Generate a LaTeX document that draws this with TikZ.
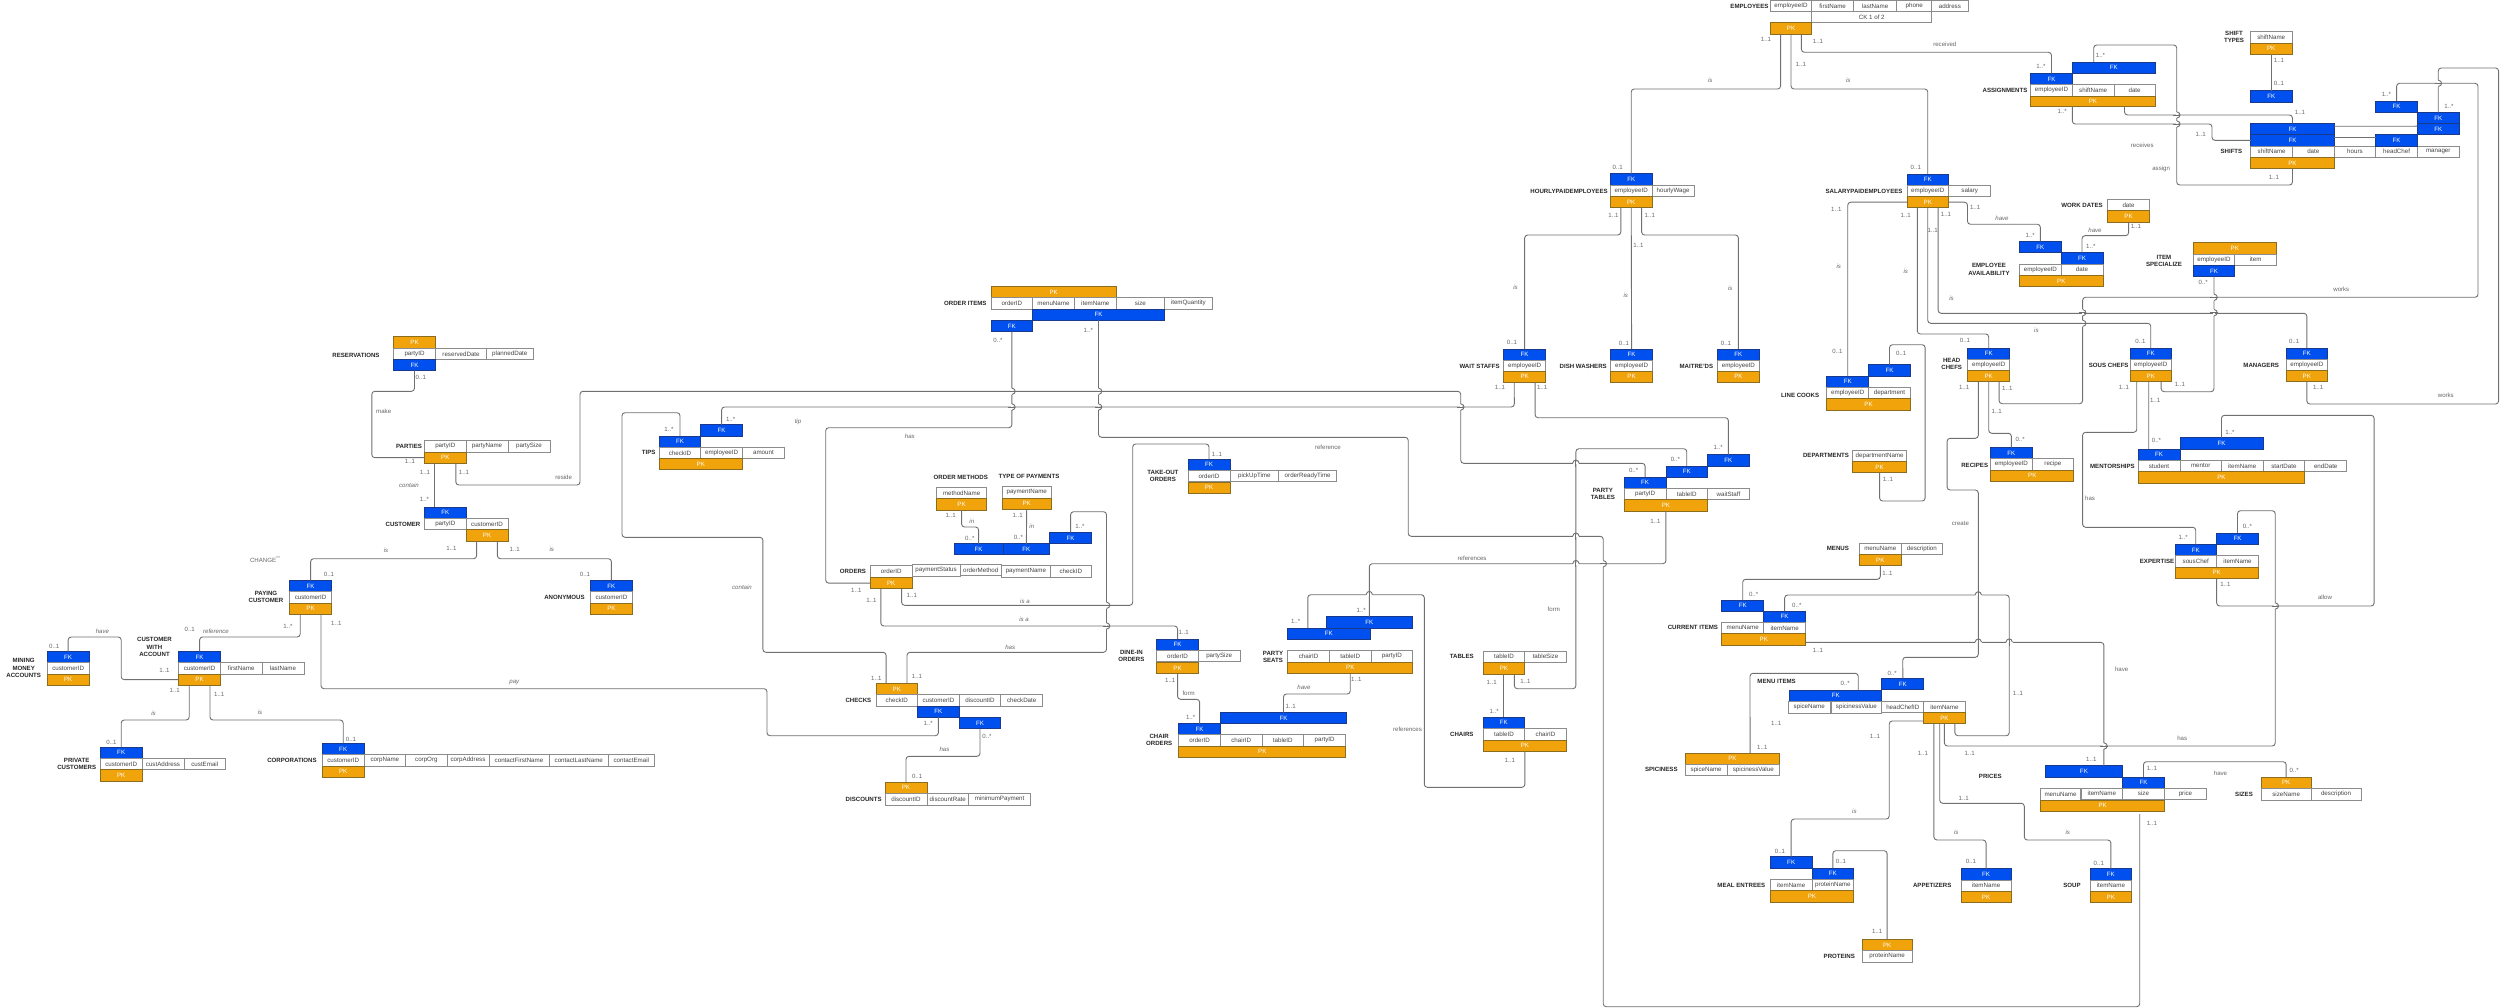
\documentclass[tikz,border=0pt]{standalone}
\usepackage{fontspec}
\setmainfont{Liberation Sans}
\definecolor{pkc}{HTML}{F0A30A}
\definecolor{pkb}{HTML}{8A6D1E}
\definecolor{fkc}{HTML}{0050EF}
\definecolor{fkb}{HTML}{1B3A8C}
\definecolor{cellb}{HTML}{8C8C8C}
\definecolor{txt}{HTML}{444444}
\definecolor{lnc}{HTML}{707070}
\tikzset{
 basebox/.style={inner sep=0pt,outer sep=0pt,line width=.8pt,font=\fontsize{6.2}{7.3}\selectfont},
 cellbox/.style={basebox,draw=cellb,fill=white,text=txt},
 pkbox/.style={basebox,draw=pkb,fill=pkc,text=white},
 fkbox/.style={basebox,draw=fkb,fill=fkc,text=white},
 titlebox/.style={align=center,inner sep=0pt,text=black!85,font=\fontsize{6.1}{7.3}\selectfont\bfseries},
 lab/.style={inner sep=0pt,text=black!60,font=\fontsize{6.1}{7.3}\selectfont},
 labi/.style={lab,font=\fontsize{6.1}{7.3}\selectfont\itshape},
 conn/.style={draw=lnc,line width=.9pt,rounded corners=3pt}
}
\newcount\nodeno
\newcommand{\bx}[7]{\node[#1,minimum width={(#5-#3)*1pt},minimum height={(#6-#4)*1pt}] (#2) at ({(#3+#5)/2},{(#4+#6)/2}) {#7};}
\newcommand{\ce}[6]{\bx{cellbox}{#1}{#2}{#3}{#4}{#5}{#6}}
\newcommand{\pk}[5]{\bx{pkbox}{#1}{#2}{#3}{#4}{#5}{PK}}
\newcommand{\fk}[5]{\bx{fkbox}{#1}{#2}{#3}{#4}{#5}{FK}}
\newcommand{\ttl}[3]{\global\advance\nodeno by 1 \node[titlebox] (t\the\nodeno) at (#1,#2) {#3};}
\newcommand{\lb}[3]{\global\advance\nodeno by 1 \node[lab] (t\the\nodeno) at (#1,#2) {#3};}
\newcommand{\li}[3]{\global\advance\nodeno by 1 \node[labi] (t\the\nodeno) at (#1,#2) {#3};}
\newcommand{\jh}[2]{\fill[white] ({#1-3.4},{#2-.9}) rectangle ({#1+3.4},{#2+.9});
 \draw[conn] (#1,{#2-3.6}) -- (#1,{#2+3.6});
 \draw[conn] ({#1-3.2},#2) .. controls ({#1-2.6},{#2-4.4}) and ({#1+2.6},{#2-4.4}) .. ({#1+3.2},#2);}
\newcommand{\jv}[2]{\fill[white] ({#1-.9},{#2-3.4}) rectangle ({#1+.9},{#2+3.4});
 \draw[conn] ({#1-3.6},#2) -- ({#1+3.6},#2);
 \draw[conn] (#1,{#2-3.2}) .. controls ({#1+4.4},{#2-2.6}) and ({#1+4.4},{#2+2.6}) .. (#1,{#2+3.2});}
\begin{document}
\begin{tikzpicture}[x=1pt,y=-1pt]
\path[use as bounding box,fill=white] (0,0) rectangle (2500,1008);
% ---------- customers and parties
\pk{resPK}{393.5}{336.7}{435.5}{348.3}
\ce{resA}{393.5}{348.3}{435.5}{359.5}{partyID}
\ce{resB}{435.5}{348.3}{486.6}{359.5}{reservedDate}
\ce{resC}{486.6}{348.3}{533}{359.5}{plannedDate}
\fk{resFK}{393.5}{359.5}{435.5}{370.7}
\ttl{356}{355}{RESERVATIONS}
\ce{parA}{424.5}{440.7}{466}{452}{partyID}
\ce{parB}{466}{440.7}{508}{452}{partyName}
\ce{parC}{508}{440.7}{550}{452}{partySize}
\pk{parPK}{424.5}{452}{466}{463.3}
\ttl{409}{446.3}{PARTIES}
\fk{cusFK}{424.5}{507}{466}{518.3}
\ce{cusA}{424.5}{518.3}{466}{529.5}{partyID}
\ce{cusB}{466}{518.3}{508}{529.5}{customerID}
\pk{cusPK}{466}{529.5}{508}{541}
\ttl{403}{524}{CUSTOMER}
\fk{payFK}{289.8}{580.3}{331.4}{591.7}
\ce{payA}{289.8}{591.7}{331.4}{603}{customerID}
\pk{payPK}{289.8}{603}{331.4}{614.3}
\ttl{266}{597}{PAYING\\CUSTOMER}
\fk{anoFK}{590.6}{580.3}{632.2}{591.7}
\ce{anoA}{590.6}{591.7}{632.2}{603}{customerID}
\pk{anoPK}{590.6}{603}{632.2}{614.3}
\ttl{564.5}{597.7}{ANONYMOUS}
\fk{cwaFK}{178.8}{651.3}{220.4}{662.7}
\ce{cwaA}{178.8}{662.7}{220.4}{674}{customerID}
\ce{cwaB}{220.4}{662.7}{262}{674}{firstName}
\ce{cwaC}{262}{662.7}{304}{674}{lastName}
\pk{cwaPK}{178.8}{674}{220.4}{685.3}
\ttl{154.5}{647}{CUSTOMER\\WITH\\ACCOUNT}
\fk{minFK}{47.3}{651.3}{89}{662.7}
\ce{minA}{47.3}{662.7}{89}{674}{customerID}
\pk{minPK}{47.3}{674}{89}{685.3}
\ttl{23.7}{668}{MINING\\MONEY\\ACCOUNTS}
\fk{priFK}{100.4}{747}{142}{758.3}
\ce{priA}{100.4}{758.3}{142}{769.7}{customerID}
\ce{priB}{142}{758.3}{184}{769.7}{custAddress}
\ce{priC}{184}{758.3}{225.6}{769.7}{custEmail}
\pk{priPK}{100.4}{769.7}{142}{781}
\ttl{76.7}{764}{PRIVATE\\CUSTOMERS}
\fk{corFK}{322.4}{743.3}{364}{754.7}
\ce{corA}{322.4}{754.7}{364}{766}{customerID}
\ce{corB}{364}{754.7}{405.7}{766}{corpName}
\ce{corC}{405.7}{754.7}{447}{766}{corpOrg}
\ce{corD}{447}{754.7}{489}{766}{corpAddress}
\ce{corE}{489}{754.7}{549}{766}{contactFirstName}
\ce{corF}{549}{754.7}{608.6}{766}{contactLastName}
\ce{corG}{608.6}{754.7}{654}{766}{contactEmail}
\pk{corPK}{322.4}{766}{364}{777.3}
\ttl{292}{760.3}{CORPORATIONS}
% ---------- orders
\pk{oiPK}{991}{286.3}{1116.3}{297.7}
\ce{oiA}{991}{297.7}{1032.7}{309}{orderID}
\ce{oiB}{1032.7}{297.7}{1074.3}{309}{menuName}
\ce{oiC}{1074.3}{297.7}{1116.3}{309}{itemName}
\ce{oiD}{1116.3}{297.7}{1164.3}{309}{size}
\ce{oiE}{1164.3}{297.7}{1212.3}{309}{itemQuantity}
\fk{oiFK2}{1032.7}{309}{1164.3}{320.3}
\fk{oiFK1}{991}{320.3}{1032.7}{331.7}
\ttl{965.3}{303.3}{ORDER ITEMS}
\fk{tipFKb}{700.8}{424.7}{742.4}{436}
\fk{tipFKa}{659.2}{436}{700.8}{447.3}
\ce{tipA}{659.2}{447.3}{700.8}{458.3}{checkID}
\ce{tipB}{700.8}{447.3}{742.4}{458.3}{employeeID}
\ce{tipC}{742.4}{447.3}{784.5}{458.3}{amount}
\pk{tipPK}{659.2}{458.3}{742.4}{469.7}
\ttl{648.6}{452.7}{TIPS}
\ce{ordA}{870.2}{565.7}{912.2}{577}{orderID}
\ce{ordB}{912.2}{564.7}{960}{576}{paymentStatus}
\ce{ordC}{960}{564.3}{1001.6}{575.7}{orderMethod}
\ce{ordD}{1001.6}{565.7}{1050.2}{577}{paymentName}
\ce{ordE}{1050.2}{565.7}{1091.4}{577}{checkID}
\pk{ordPK}{870.2}{577.5}{912.2}{588.7}
\ttl{853}{571.7}{ORDERS}
\fk{ofkA}{954.3}{543.7}{1002.9}{554.7}
\fk{ofkB}{1002.9}{543.7}{1049.8}{554.7}
\fk{ofkC}{1049.8}{532.3}{1091.4}{543.7}
\ce{omA}{936.7}{487.3}{986.5}{498.7}{methodName}
\pk{omPK}{936.7}{498.7}{986.5}{510}
\ttl{960.8}{477.3}{ORDER METHODS}
\ce{tpA}{1002}{486.7}{1051.4}{498}{paymentName}
\pk{tpPK}{1002}{498}{1051.4}{509.3}
\ttl{1029}{476.7}{TYPE OF PAYMENTS}
\fk{toFK}{1188}{459}{1230}{470.3}
\ce{toA}{1188}{470.3}{1230}{481.7}{orderID}
\ce{toB}{1230}{470.3}{1278.6}{481.7}{pickUpTime}
\ce{toC}{1278.6}{470.3}{1336.8}{481.7}{orderReadyTime}
\pk{toPK}{1188}{481.9}{1230}{493.7}
\ttl{1162.9}{476}{TAKE-OUT\\ORDERS}
\pk{chkPK}{875.9}{683.3}{917.6}{694.7}
\ce{chkA}{875.9}{694.7}{917.6}{706}{checkID}
\ce{chkB}{917.6}{694.7}{959.2}{706}{customerID}
\ce{chkC}{959.2}{694.7}{1000.8}{706}{discountID}
\ce{chkD}{1000.8}{694.7}{1042.6}{706}{checkDate}
\fk{chkFKa}{917.6}{706}{959.2}{717.3}
\fk{chkFKb}{959.2}{717.3}{1000.8}{728.7}
\ttl{858.4}{700.3}{CHECKS}
\pk{disPK}{884.9}{782}{927}{793.3}
\ce{disA}{884.9}{793.3}{927}{805}{discountID}
\ce{disB}{927}{793.3}{968.6}{805}{discountRate}
\ce{disC}{968.6}{793.3}{1030.6}{805}{minimumPayment}
\ttl{863.7}{799.7}{DISCOUNTS}
\fk{diFK}{1156.7}{639}{1198.4}{650.3}
\ce{diA}{1156.7}{650.3}{1198.4}{661.7}{orderID}
\ce{diB}{1198.4}{650.3}{1240}{661.7}{partySize}
\pk{diPK}{1156.7}{662.1}{1198.4}{673.7}
\ttl{1131.4}{656}{DINE-IN\\ORDERS}
\fk{coFKb}{1220.4}{712.3}{1346.5}{723.5}
\fk{coFKa}{1178.8}{723.5}{1220.4}{734.7}
\ce{coA}{1178.8}{734.7}{1220.4}{746}{orderID}
\ce{coB}{1220.4}{734.7}{1262}{746}{chairID}
\ce{coC}{1262}{734.7}{1303.5}{746}{tableID}
\ce{coD}{1303.5}{734.7}{1345.7}{746}{partyID}
\pk{coPK}{1178.8}{746}{1345.7}{757.3}
\ttl{1159.2}{740}{CHAIR\\ORDERS}
\fk{psFKb}{1325.9}{616.5}{1412.7}{628}
\fk{psFKa}{1287}{628}{1370.6}{639.3}
\ce{psA}{1287.8}{650.5}{1329.4}{661.9}{chairID}
\ce{psB}{1329.4}{650.5}{1371}{661.9}{tableID}
\ce{psC}{1371}{650.5}{1412.7}{661.9}{partyID}
\pk{psPK}{1287.8}{661.9}{1412.7}{673.5}
\ttl{1273}{657}{PARTY\\SEATS}
\ce{tabA}{1483.3}{651}{1524.5}{662.3}{tableID}
\ce{tabB}{1524.5}{651}{1566.5}{662.3}{tableSize}
\pk{tabPK}{1483.3}{662.3}{1524.5}{674}
\ttl{1461.8}{656.7}{TABLES}
\fk{chaFK}{1483.3}{717}{1524.5}{728.3}
\ce{chaA}{1483.3}{728.3}{1524.5}{740}{tableID}
\ce{chaB}{1524.5}{728.3}{1566.5}{740}{chairID}
\pk{chaPK}{1483.3}{740}{1566.5}{751.3}
\ttl{1461.8}{734.3}{CHAIRS}
% ---------- staff
\ce{empA}{1770.2}{0.4}{1811.8}{11.3}{employeeID}
\ce{empB}{1811.8}{0.4}{1853.5}{11.3}{firstName}
\ce{empC}{1853.5}{0.4}{1896.8}{11.3}{lastName}
\ce{empD}{1896.8}{0.4}{1931.7}{11.3}{phone}
\ce{empE}{1931.7}{0.4}{1968}{11.3}{address}
\ce{empCK}{1811.8}{11.3}{1931.7}{22.7}{CK 1 of 2}
\pk{empPK}{1770.2}{22.7}{1811.8}{34}
\ttl{1749.4}{6}{EMPLOYEES}
\fk{hpFK}{1610.2}{173.7}{1652.2}{185}
\ce{hpA}{1610.2}{185}{1652.2}{196.3}{employeeID}
\ce{hpB}{1652.2}{185}{1694}{196.3}{hourlyWage}
\pk{hpPK}{1610.2}{196.3}{1652.2}{207.7}
\ttl{1569}{191.3}{HOURLYPAIDEMPLOYEES}
\fk{spFK}{1906.9}{174}{1948.6}{185.3}
\ce{spA}{1906.9}{185.3}{1948.6}{196.7}{employeeID}
\ce{spB}{1948.6}{185.3}{1990.7}{196.7}{salary}
\pk{spPK}{1906.9}{196.7}{1948.6}{207.7}
\ttl{1864}{191.3}{SALARYPAIDEMPLOYEES}
\fk{wsFK}{1503.6}{349}{1545.7}{360.3}
\ce{wsA}{1503.6}{360.3}{1545.7}{371.3}{employeeID}
\pk{wsPK}{1503.6}{371.3}{1545.7}{382.3}
\ttl{1479.6}{366}{WAIT STAFFS}
\fk{dwFK}{1610.7}{349}{1652.5}{360.3}
\ce{dwA}{1610.7}{360.3}{1652.5}{371.3}{employeeID}
\pk{dwPK}{1610.7}{371.3}{1652.5}{382.3}
\ttl{1583.2}{366}{DISH WASHERS}
\fk{mdFK}{1717.5}{349}{1759.3}{360.3}
\ce{mdA}{1717.5}{360.3}{1759.3}{371.3}{employeeID}
\pk{mdPK}{1717.5}{371.3}{1759.3}{382.3}
\ttl{1696.4}{366}{MAITRE'DS}
\fk{lcFKa}{1826.8}{376}{1868.6}{387.3}
\fk{lcFKb}{1868.6}{364.7}{1910.4}{376}
\ce{lcA}{1826.8}{387.3}{1868.6}{398.7}{employeeID}
\ce{lcB}{1868.6}{387.3}{1910.4}{398.7}{department}
\pk{lcPK}{1826.8}{398.7}{1910.4}{410}
\ttl{1800.2}{395.7}{LINE COOKS}
\ce{dpA}{1852.5}{450}{1906.7}{461.3}{departmentName}
\pk{dpPK}{1852.5}{461.3}{1906.7}{472.7}
\ttl{1826}{455.7}{DEPARTMENTS}
\fk{hcFK}{1967.8}{348}{2009.6}{359.3}
\ce{hcA}{1967.8}{359.3}{2009.6}{370.7}{employeeID}
\pk{hcPK}{1967.8}{370.7}{2009.6}{381.7}
\ttl{1951.7}{364}{HEAD\\CHEFS}
\fk{scFK}{2129.9}{348}{2171.6}{359.3}
\ce{scA}{2129.9}{359.3}{2171.6}{370.7}{employeeID}
\pk{scPK}{2129.9}{370.7}{2171.6}{381.7}
\ttl{2108.7}{365}{SOUS CHEFS}
\fk{mgFK}{2286}{348}{2327.7}{359.3}
\ce{mgA}{2286}{359.3}{2327.7}{370.7}{employeeID}
\pk{mgPK}{2286}{370.7}{2327.7}{381.7}
\ttl{2261.2}{365}{MANAGERS}
\fk{eaFKa}{2019.7}{241.3}{2061}{252.7}
\fk{eaFKb}{2061}{252.7}{2103}{264}
\ce{eaA}{2019.7}{264}{2061}{275.3}{employeeID}
\ce{eaB}{2061}{264}{2103}{275.3}{date}
\pk{eaPK}{2019.7}{275.3}{2103}{286.7}
\ttl{1989}{269.3}{EMPLOYEE\\AVAILABILITY}
\ce{wdA}{2107.7}{199.3}{2149.4}{210.7}{date}
\pk{wdPK}{2107.7}{210.7}{2149.4}{222}
\ttl{2082}{205.3}{WORK DATES}
\pk{isPK}{2193.1}{242.7}{2276.5}{254}
\ce{isA}{2193.1}{254}{2234.8}{265.3}{employeeID}
\ce{isB}{2234.8}{254}{2276.5}{265.3}{item}
\fk{isFK}{2193.1}{265.3}{2234.8}{276.7}
\ttl{2164}{260.7}{ITEM\\SPECIALIZE}
\fk{asFKa}{2030.7}{73.3}{2072.3}{84.7}
\fk{asFKb}{2072.3}{62}{2155.2}{73.3}
\ce{asA}{2030.7}{84.7}{2072.3}{96}{employeeID}
\ce{asB}{2072.3}{84.7}{2114}{96}{shiftName}
\ce{asC}{2114}{84.7}{2155.2}{96}{date}
\pk{asPK}{2030.7}{96}{2155.2}{106.7}
\ttl{2005}{90}{ASSIGNMENTS}
\ce{stA}{2250.4}{31.7}{2292}{43}{shiftName}
\pk{stPK}{2250.4}{43}{2292}{54.3}
\fk{stFK}{2250.4}{90.7}{2292}{102}
\ttl{2234}{36.7}{SHIFT\\TYPES}
\fk{shFKa}{2250.8}{123.3}{2334.1}{134.7}
\fk{shFKb}{2250.8}{134.7}{2334.1}{146}
\ce{shA}{2250.8}{146}{2292.5}{157.3}{shiftName}
\ce{shB}{2292.5}{146}{2334.1}{157.3}{date}
\ce{shC}{2334.1}{146}{2375.8}{157.3}{hours}
\ce{shD}{2375.8}{146}{2417.4}{157.3}{headChef}
\ce{shE}{2417.4}{146}{2459.1}{157.3}{manager}
\pk{shPK}{2250.8}{157.3}{2334.1}{168.7}
\fk{shFKc}{2375.8}{134.7}{2417.4}{146}
\fk{shFKd}{2375.8}{101}{2417.4}{112.3}
\fk{shFKe}{2417.4}{112.7}{2459.1}{123.7}
\fk{shFKf}{2417.4}{123.7}{2459.1}{134.7}
\ttl{2231.4}{151}{SHIFTS}
\fk{reFK}{1990.7}{447.3}{2032}{458.7}
\ce{reA}{1990.7}{458.7}{2032}{470}{employeeID}
\ce{reB}{2032}{458.7}{2073.8}{470}{recipe}
\pk{rePK}{1990.7}{470}{2073.8}{481.3}
\ttl{1974.7}{465}{RECIPES}
\fk{meFKa}{2138.1}{449}{2179.9}{460.3}
\fk{meFKb}{2179.9}{437.7}{2263}{449}
\ce{meA}{2138.1}{460.3}{2179.9}{471.7}{student}
\ce{meB}{2179.9}{460.3}{2221.4}{471.7}{mentor}
\ce{meC}{2221.4}{460.3}{2263}{471.7}{itemName}
\ce{meD}{2263}{460.3}{2304.7}{471.7}{startDate}
\ce{meE}{2304.7}{460.3}{2346.7}{471.7}{endDate}
\pk{mePK}{2138.1}{471.7}{2304.7}{483}
\ttl{2112.4}{466.3}{MENTORSHIPS}
\fk{exFKa}{2174.9}{544.3}{2216.6}{555.7}
\fk{exFKb}{2216.6}{533}{2258.4}{544.3}
\ce{exA}{2174.9}{555.7}{2216.6}{567}{sousChef}
\ce{exB}{2216.6}{555.7}{2258.4}{567}{itemName}
\pk{exPK}{2174.9}{567}{2258.4}{578.3}
\ttl{2157}{561.3}{EXPERTISE}
\fk{ptFKa}{1624.3}{477.3}{1666}{488.3}
\fk{ptFKb}{1666}{466}{1707.5}{477.3}
\fk{ptFKc}{1707.5}{454.7}{1749.3}{466}
\ce{ptA}{1624.3}{488.3}{1666}{499.7}{partyID}
\ce{ptB}{1666}{488.3}{1707.5}{499.7}{tableID}
\ce{ptC}{1707.5}{488.3}{1749.3}{499.7}{waitStaff}
\pk{ptPK}{1624.3}{499.7}{1707.5}{511}
\ttl{1602.9}{493.7}{PARTY\\TABLES}
% ---------- menu
\ce{mnA}{1859.4}{543}{1901.2}{554.3}{menuName}
\ce{mnB}{1901.2}{543}{1942.5}{554.3}{description}
\pk{mnPK}{1859.4}{554.3}{1901.2}{565.7}
\ttl{1837.9}{548.7}{MENUS}
\fk{ciFKa}{1721.8}{600}{1763.6}{611}
\fk{ciFKb}{1763.6}{611}{1805.7}{622}
\ce{ciA}{1721.8}{622}{1763.6}{633.7}{menuName}
\ce{ciB}{1763.6}{622}{1805.7}{633.7}{itemName}
\pk{ciPK}{1721.8}{633.7}{1805.7}{645}
\ttl{1692.9}{627.7}{CURRENT ITEMS}
\fk{miFKa}{1789.7}{690}{1881.8}{701.3}
\fk{miFKb}{1881.8}{678.3}{1923.8}{689.7}
\ce{miA}{1788.4}{701.7}{1830}{713}{spiceName}
\ce{miB}{1831}{701.7}{1881.8}{713}{spicinessValue}
\ce{miC}{1881.8}{701.7}{1923.8}{712.7}{headChefID}
\ce{miD}{1923.8}{701.7}{1965}{712.7}{itemName}
\pk{miPK}{1923.8}{712.7}{1965}{723.7}
\ttl{1776.6}{681.7}{MENU ITEMS}
\pk{spiPK}{1685.3}{753}{1779.6}{764}
\ce{spiA}{1685.3}{764}{1727}{775.3}{spiceName}
\ce{spiB}{1727}{764}{1779.6}{775.3}{spicinessValue}
\ttl{1661.3}{769}{SPICINESS}
\fk{meaFKa}{1770.3}{856.7}{1812}{868}
\fk{meaFKb}{1812}{868}{1853.6}{879.3}
\ce{meaA}{1770.3}{879.3}{1812}{890.7}{itemName}
\ce{meaB}{1812}{879.3}{1853.6}{890.7}{proteinName}
\pk{meaPK}{1770.3}{890.7}{1853.6}{902}
\ttl{1741.3}{885}{MEAL ENTREES}
\pk{prtPK}{1862.3}{939.3}{1912}{950.7}
\ce{prtA}{1862.3}{950.7}{1912}{962}{proteinName}
\ttl{1839.3}{956.3}{PROTEINS}
\fk{apFK}{1961.2}{868.7}{2010.9}{880}
\ce{apA}{1961.2}{880}{2010.9}{891.3}{itemName}
\pk{apPK}{1961.2}{891.3}{2010.9}{902.7}
\ttl{1932.2}{885.7}{APPETIZERS}
\fk{soFK}{2090}{868.7}{2131.7}{880}
\ce{soA}{2090}{880}{2131.7}{891.3}{itemName}
\pk{soPK}{2090}{891.3}{2131.7}{902.7}
\ttl{2071.9}{885.7}{SOUP}
\fk{prFKa}{2045.4}{765.7}{2122.4}{777}
\fk{prFKb}{2122.4}{777}{2164.5}{788}
\ce{prA}{2040.8}{788.7}{2080.3}{800}{menuName}
\ce{prB}{2081.2}{788}{2122.4}{799.3}{itemName}
\ce{prC}{2122.4}{788}{2164.5}{799.3}{size}
\ce{prD}{2164.5}{788}{2206.4}{799.3}{price}
\pk{prPK}{2040.8}{800}{2164.5}{811.3}
\ttl{1990.3}{776}{PRICES}
\pk{szPK}{2261.3}{777}{2311}{788.3}
\ce{szA}{2261.3}{788.5}{2311}{800}{sizeName}
\ce{szB}{2311}{788.5}{2361}{800}{description}
\ttl{2244}{794.3}{SIZES}
\coordinate (prEnd) at (2139.7,814);
% ---------- connectors
\draw[conn] (resFK.south) |- (371.8,391.3) |- (parPK.west);
\draw[conn] ([xshift=-10.5pt]parPK.south) -- ([xshift=-10.5pt]cusFK.north);
\draw[conn] ([xshift=10.6pt]parPK.south) |- (580,485) |- (1460.7,391.3) |- (1645.15,463.3) -- (ptFKa.north);
\draw[conn] ([xshift=-10.4pt]cusPK.south) |- (310.6,558.7) -- (payFK.north);
\draw[conn] ([xshift=10.4pt]cusPK.south) |- (611.4,558.7) -- (anoFK.north);
\draw[conn] ([xshift=-10.4pt]payPK.south) |- (199.6,637) -- (cwaFK.north);
\draw[conn] ([xshift=10.4pt]payPK.south) |- (767,688.7) |- (938.4,735.7) -- (chkFKa.south);
\draw[conn] (cwaPK.west) -| (121.2,637) -| (minFK.north);
\draw[conn] ([xshift=-10.4pt]cwaPK.south) |- (121.2,720) -- (priFK.north);
\draw[conn] ([xshift=10.4pt]cwaPK.south) |- (343.2,720) -- (corFK.north);
\draw[conn] (oiFK1.south) |- (825.7,427.7) |- (ordPK.west);
\draw[conn] (oiFK2.south) |- (1408.2,437.3) |- (1603.2,536.3) |- (2139.7,1006.7) -- (prEnd);
\draw[conn] (tipFKb.north) |- (1514.3,407) -- ([xshift=-10.4pt]wsPK.south);
\draw[conn] (tipFKa.north) |- (622,412.7) |- (762.9,537.3) |- (886.1,652.3) -- ([xshift=-10.6pt]chkPK.north);
\draw[conn] ([xshift=10.4pt]ordPK.south) |- (1132.7,605.3) |- (1209,444) -- (toFK.north);
\draw[conn] ([xshift=-10.4pt]ordPK.south) |- (1177.55,626) -- (diFK.north);
\draw[conn] (omPK.south) |- (978.6,527) -- (ofkA.north);
\draw[conn] (tpPK.south) -- (ofkB.north);
\draw[conn] (ofkC.north) |- (1106.5,511.7) |- (907,652.3) -- ([xshift=10.2pt]chkPK.north);
\draw[conn] (chkFKb.south) |- (906,756.3) -- (disPK.north);
\draw[conn] (diPK.south) |- (1199.6,699.3) -- (coFKa.north);
\draw[conn] (psPK.south) |- (1283.45,694) -- (coFKb.north);
\draw[conn] ([xshift=-21pt]psFKa.north) |- (1424.3,594.7) |- (1524.9,787.3) -- (chaPK.south);
\draw[conn] (psFKb.north) |- (1665.9,563.7) -- (ptPK.south);
\draw[conn] (tabPK.south) -- (chaFK.north);
\draw[conn] ([xshift=10.4pt]tabPK.south) |- (1575.9,688.7) |- (1686.75,448.7) -- (ptFKb.north);
\draw[conn] ([xshift=10.4pt]wsPK.south) |- (1728.4,417.7) -- (ptFKc.north);
\draw[conn] ([xshift=-10.4pt]empPK.south) |- (1631.2,89) -- (hpFK.north);
\draw[conn] (empPK.south) |- (1927.75,89) -- (spFK.north);
\draw[conn] ([xshift=10.4pt]empPK.south) |- (2051.5,52.3) -- (asFKa.north);
\draw[conn] ([xshift=-10.4pt]hpPK.south) |- (1524.65,235) -- (wsFK.north);
\draw[conn] (hpPK.south) -- (dwFK.north);
\draw[conn] ([xshift=10.4pt]hpPK.south) |- (1738.4,235) -- (mdFK.north);
\draw[conn] (spPK.west) -| (lcFKa.north);
\draw[conn] ([xshift=-10.4pt]spPK.south) |- (1988.7,334) -- (hcFK.north);
\draw[conn] (spPK.south) |- (2150.75,323.3) -- (scFK.north);
\draw[conn] ([xshift=10.4pt]spPK.south) |- (2306.85,313.3) -- (mgFK.north);
\draw[conn] (spPK.east) -| (1967.5,224.3) -| (eaFKa.north);
\draw[conn] (wdPK.south) |- (2082,235.7) -- (eaFKb.north);
\draw[conn] (dpPK.south) |- (1925.1,501) |- (1889.5,344.7) -- (lcFKb.north);
\draw[conn] ([xshift=10.4pt]hcPK.south) |- (2082.6,403.7) |- (2478,297.3) |- (2396.6,83.3) -- (shFKd.north);
\draw[conn] (hcPK.south) |- (2011.35,433.3) -- (reFK.north);
\draw[conn] ([xshift=-10.4pt]hcPK.south) |- (1947.1,438.3) |- (1978.3,490) |- (1902.75,657.3) -- (miFKb.north);
\draw[conn] ([xshift=10.4pt]scPK.south) |- (2213.95,391.7) -- (isFK.south);
\draw[conn] ([xshift=-2pt]scPK.south) -- ([xshift=-10.3pt]meFKa.north);
\draw[conn] ([xshift=-14pt]scPK.south) |- (2082.6,432.3) |- (2195.75,527.3) -- (exFKa.north);
\draw[conn] (mgPK.south) |- (2498.6,404) |- (2438.25,68) -- (shFKe.north);
\draw[conn] (exPK.south) |- (2374.1,606) |- (2221.45,415.3) -- (meFKb.north);
\draw[conn] (exFKb.north) |- (2275.2,510.7) |- (1944.4,746) -- (miPK.south);
\draw[conn] (mnPK.south) |- (1742.7,579.3) -- (ciFKa.north);
\draw[conn] (ciFKb.north) |- (2009.2,595) |- (1954.9,735.7) -- ([xshift=10.5pt]miPK.south);
\draw[conn] ([yshift=-3pt]ciPK.east) -| ([xshift=20pt]prFKa.north);
\draw[conn] ([yshift=-2.8pt]miPK.west) -| (1889.2,819) -| (meaFKa.north);
\draw[conn] ([xshift=22.5pt]miFKa.north) |- (1750,673.3) -- ([xshift=17.6pt]spiPK.north);
\draw[conn] ([xshift=-10.5pt]miPK.south) |- (1986.05,840) -- (apFK.north);
\draw[conn] ([xshift=-4.7pt]miPK.south) |- (2024.3,803.3) |- (2110.85,840) -- (soFK.north);
\draw[conn] (meaFKb.north) |- (1887.15,850.7) -- (prtPK.north);
\draw[conn] (prFKb.north) |- (2286.15,761.7) -- (szPK.north);
\draw[conn] (stPK.south) -- (stFK.north);
\draw[conn] ([xshift=-20.65pt]asPK.south) |- (2212,124) |- (shFKb.west);
\draw[conn] ([xshift=31.55pt]asPK.south) |- (2292.45,115) -- (shFKa.north);
\draw[conn] ([xshift=-20pt]asFKb.north) |- (2176.7,45) |- (2292.45,185) -- (shPK.south);
\draw[conn] ([yshift=3pt]shFKf.west) -- ([yshift=2.7pt]shFKa.east);
\draw[conn] ([yshift=3pt]shFKc.west) -- ([yshift=3pt]shFKb.east);
% ---------- line jumps
\jv{1011.85}{391.3}\jv{1011.85}{407}\jv{1098.5}{391.3}\jv{1098.5}{407}
\jv{1106.5}{605.3}\jv{1106.5}{626}\jv{1460.7}{407}\jv{1603.2}{563.7}
\jh{1575.9}{463.3}\jh{1575.9}{536.3}\jh{1575.9}{563.7}\jh{1369.3}{594.7}
\jv{2176.7}{115}\jv{2176.7}{124}\jv{2213.95}{297.3}\jv{2213.95}{312.7}
\jv{2082.6}{312.7}\jv{2082.6}{323.3}\jv{2438.25}{83.3}
\jh{1978.3}{595}\jh{1978.3}{642.2}\jh{2009.2}{642.2}
\jv{2275.2}{606}\jv{2103.9}{746}
% ---------- labels: customers
\lb{265.3}{559.3}{CHANGE\textsuperscript{\^{}\^{}}}
\lb{420.8}{377}{0..1}\lb{410}{461.3}{1..1}\lb{383.7}{411.3}{make}\lb{425}{472}{1..1}\lb{464}{472}{1..1}
\li{409}{485.7}{contain}\lb{563.7}{477.7}{reside}\lb{424.5}{499.7}{1..*}
\li{386}{550.3}{is}\lb{451.4}{548.3}{1..1}\lb{514.7}{549.3}{1..1}\li{551.8}{549.3}{is}
\lb{329}{574.7}{0..1}\lb{585}{574.3}{0..1}\lb{288}{626.7}{1..*}\li{216}{631.7}{reference}
\lb{189.8}{629.3}{0..1}\lb{336.3}{623.3}{1..1}\li{102.4}{631.7}{have}\lb{54.3}{646.3}{0..1}
\lb{164.5}{670.7}{1..1}\lb{174.7}{690.7}{1..1}\li{153.5}{713.3}{is}\lb{111.4}{742.3}{0..1}
\lb{219.2}{694.7}{1..1}\li{260}{712.7}{is}\lb{351}{739}{0..1}\li{514.3}{682.7}{pay}
% labels: orders
\li{909.8}{436.3}{has}\lb{998}{340.7}{0..*}\lb{1088.3}{330}{1..*}\li{798}{421.7}{tip}
\lb{730.6}{419.3}{1..*}\lb{669}{429.7}{1..*}\li{742}{587.3}{contain}
\lb{950.6}{515.7}{1..1}\li{971.8}{521.7}{in}\lb{969.8}{538.7}{0..*}
\lb{1017.6}{515.7}{1..1}\li{1031.8}{526.3}{in}\lb{1018.4}{537.3}{0..*}\lb{1080}{526.3}{1..*}
\lb{856.3}{590}{1..1}\li{1024.9}{601.7}{is a}\lb{911.8}{595.3}{1..1}\lb{1217}{454.3}{1..1}
\li{1024}{619.3}{is a}\lb{871.4}{600.7}{1..1}\lb{1183.7}{632.7}{1..1}\li{1010.2}{647.3}{has}
\lb{876.3}{678}{1..1}\lb{917}{676.7}{1..1}\lb{928.2}{723.3}{1..*}\lb{987}{736.3}{0..*}
\li{944.5}{749.3}{has}\lb{917.1}{776.7}{0..1}\lb{1170.2}{680}{1..1}\lb{1188.6}{693}{form}
\lb{1190.6}{717.7}{1..*}\lb{1356.3}{679.3}{1..1}\li{1304}{687.3}{have}\lb{1290.6}{706.7}{1..1}
\lb{1295.6}{621}{1..*}\lb{1361.2}{610.7}{1..*}\lb{1407.5}{729.3}{references}
\lb{1472.1}{558}{references}\lb{1655.4}{521}{1..1}\lb{1509.8}{760}{1..1}\lb{1491.7}{682.7}{1..1}
\lb{1494.2}{711}{1..*}\lb{1525.4}{681}{1..1}\lb{1553.8}{609}{form}\lb{1675.4}{459.3}{0..*}
\lb{1633.6}{470.7}{0..*}\lb{1718.2}{447}{1..*}\lb{1542.1}{387.7}{1..1}\lb{1500}{387.7}{1..1}
\lb{1512}{342.3}{0..1}\lb{1624}{343.3}{0..1}\lb{1726}{343.3}{0..1}\lb{1327.9}{447.3}{reference}
% labels: staff
\li{1710.2}{80.3}{is}\lb{1766}{39}{1..1}\lb{1617.6}{167.7}{0..1}\li{1848.2}{80.3}{is}
\lb{1800.8}{64.7}{1..1}\lb{1818}{41.3}{1..1}\lb{1944.8}{44.3}{received}\lb{2041}{66.7}{1..*}
\lb{1613.5}{215.7}{1..1}\li{1515.5}{287}{is}\lb{1638.4}{245.7}{1..1}\li{1625.7}{295}{is}
\lb{1649.8}{215.7}{1..1}\li{1730.2}{288.7}{is}\lb{1836.3}{209.3}{1..1}\li{1838.8}{266.7}{is}
\lb{1915.8}{167.3}{0..1}\lb{1837.4}{351}{0..1}\lb{1887.9}{479.3}{1..1}\lb{1901.2}{353.7}{0..1}
\li{1905.7}{271.7}{is}\lb{1905.7}{215.7}{1..1}\lb{1965}{340.3}{0..1}
\li{2036.4}{330}{is}\lb{1932.6}{230}{1..1}\lb{2140.4}{341.3}{0..1}
\li{1951.5}{298.7}{is}\lb{1946}{214.7}{1..1}\lb{2294.2}{341.3}{0..1}
\lb{1975.1}{207.3}{1..1}\li{2002}{218}{have}\lb{2030.2}{235.3}{1..*}
\lb{2135.9}{226.7}{1..1}\li{2095}{230}{have}\lb{2090.8}{246.3}{1..*}
\lb{2203.2}{282}{0..*}\lb{2179.9}{384.3}{1..1}\lb{2341.3}{289.3}{works}
\lb{2007.3}{388}{1..1}\lb{2386.3}{94.7}{1..*}\lb{2318.1}{387.3}{1..1}\lb{2445.8}{395}{works}
\lb{2449}{106.3}{1..*}\lb{2279}{60.3}{1..1}\lb{2279}{83.7}{0..1}
\lb{2062.2}{111.7}{1..*}\lb{2200.7}{134}{1..1}\lb{2142.2}{145.3}{receives}\lb{2300}{112.7}{1..1}
\lb{2100.5}{55.7}{1..*}\lb{2161.1}{168.7}{assign}\lb{2273.9}{177.7}{1..1}
\lb{2155.1}{400.7}{1..1}\lb{2156.5}{440.3}{0..*}\lb{2123.9}{387.7}{1..1}\lb{2090}{498}{has}
\lb{2183.1}{537.7}{1..*}\lb{2225.4}{584.7}{1..1}\lb{2325}{597.3}{allow}\lb{2230}{432.3}{1..*}
\lb{2247.4}{526.3}{0..*}\lb{1960.4}{523.7}{create}\lb{1964.1}{387.7}{1..1}\lb{1996.7}{411.3}{1..1}
\lb{2020.1}{439.7}{0..*}
% labels: menu
\lb{2182.2}{738}{has}\lb{1969.6}{753.3}{1..1}\lb{1887.4}{573.3}{1..1}\lb{1753.6}{594}{0..*}
\lb{2018}{693.3}{1..1}\lb{1796.8}{605.3}{0..*}\lb{2121.6}{669.3}{have}
\lb{1818}{650.7}{1..1}\lb{2091.3}{759.3}{1..1}\lb{1892.2}{673.3}{0..*}
\lb{1845.2}{683.7}{0..*}\lb{1776.2}{723.7}{1..1}\lb{1762.3}{747.7}{1..1}\lb{1875}{736.7}{1..1}
\li{1854.4}{811.7}{is}\lb{1780}{851.7}{0..1}\lb{1841}{861.7}{0..1}\lb{1877.2}{931.7}{1..1}
\lb{1922.9}{753.3}{1..1}\li{1956.2}{832}{is}\lb{1970.9}{861.7}{0..1}
\lb{1963.7}{798.7}{1..1}\li{2067.7}{832}{is}\lb{2098.8}{863.3}{0..1}
\lb{2151.9}{768.7}{1..1}\lb{2220.5}{773}{have}\lb{2294.1}{770.3}{0..*}\lb{2151.9}{823.7}{1..1}
\end{tikzpicture}
\end{document}
